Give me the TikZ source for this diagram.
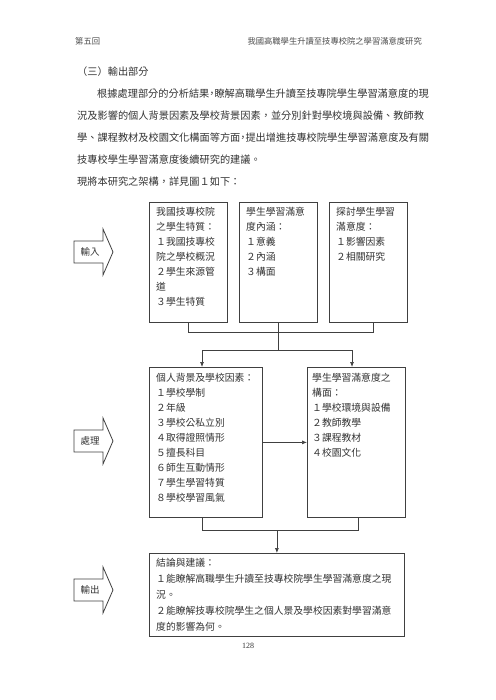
\documentclass[tikz,border=0pt]{standalone}
\usepackage{fontspec}
\setmainfont{Liberation Serif}
\newfontfamily\cjk{Noto Sans CJK TC}
\usetikzlibrary{arrows.meta,calc}
\begin{document}
\begin{tikzpicture}[x=1pt,y=-1pt,
  boxline/.style={draw=black!75, line width=0.8pt},
  frame/.style={boxline, rectangle, inner sep=0pt, anchor=north west},
  boxtext/.style={anchor=north west, inner sep=0pt, align=left, text=black!80, font=\cjk\fontsize{9.8}{15}\selectfont},
  bodytext/.style={anchor=base west, inner sep=0pt, text=black!80, font=\cjk\fontsize{10.2}{12}\selectfont},
  headtext/.style={inner sep=0pt, text=black!70, font=\cjk\fontsize{8.3}{10}\selectfont},
  arrowlabel/.style={inner sep=0pt, text=black!80, font=\cjk\fontsize{9.5}{11}\selectfont},
  link/.style={draw=black!75, line width=0.7pt},
  arr/.style={link, -{Latex[length=5pt,width=4pt]}}
]
\useasboundingbox[fill=white] (0,0) rectangle (495,700);

% header
\node[headtext, anchor=base west] (hl) at (75,44.3) {第五回};
\node[headtext, anchor=base east] (hr) at (422,44.3) {我國高職學生升讀至技專校院之學習滿意度研究};

% body text
\node[bodytext] (p0) at (77,76) {（三）輸出部分};
\node[bodytext] (p1) at (97,98) {根據處理部分的分析結果\kern-2.55pt，\kern-2.55pt 瞭解高職學生升讀至技專院學生學習滿意度的現};
\node[bodytext] (p2) at (77,120) {況及影響的個人背景因素及學校背景因素，並分別針對學校境與設備、教師教};
\node[bodytext] (p3) at (77,142) {學、課程教材及校園文化構面等方面\kern-2.55pt，\kern-2.55pt 提出增進技專校院學生學習滿意度及有關};
\node[bodytext] (p4) at (77,164) {技專校學生學習滿意度後續研究的建議。};
\node[bodytext] (p5) at (77,186) {現將本研究之架構，詳見圖１如下：};

% frames
\node[frame, minimum width=78pt, minimum height=120pt] (b1) at (149,202) {};
\node[frame, minimum width=78pt, minimum height=120pt] (b2) at (239,202) {};
\node[frame, minimum width=78pt, minimum height=120pt] (b3) at (329,202) {};
\node[frame, minimum width=113pt, minimum height=150pt] (b4) at (149,367) {};
\node[frame, minimum width=98pt, minimum height=150pt] (b5) at (307,367) {};
\node[frame, minimum width=255pt, minimum height=83pt] (b6) at (149,553) {};

% frame texts
\node[boxtext] (t1) at (156,205.7) {\rule{0pt}{10pt}我國技專校院\\之學生特質：\\１我國技專校\\院之學校概況\\２學生來源管\\道\\３學生特質};
\node[boxtext] (t2) at (246,205.7) {\rule{0pt}{10pt}學生學習滿意\\度內涵：\\１意義\\２內涵\\３構面};
\node[boxtext] (t3) at (336,205.7) {\rule{0pt}{10pt}探討學生學習\\滿意度：\\１影響因素\\２相關研究};
\node[boxtext] (t4) at (156,371.7) {\rule{0pt}{10pt}個人背景及學校因素：\\１學校學制\\２年級\\３學校公私立別\\４取得證照情形\\５擅長科目\\６師生互動情形\\７學生學習特質\\８學校學習風氣};
\node[boxtext] (t5) at (312,371.7) {\rule{0pt}{10pt}學生學習滿意度之\\構面：\\１學校環境與設備\\２教師教學\\３課程教材\\４校園文化};
\node[boxtext, font=\cjk\fontsize{9.8}{16}\selectfont] (t6) at (156,556.7) {\rule{0pt}{10pt}結論與建議：\\１能瞭解高職學生升讀至技專校院學生學習滿意度之現\\況。\\２能瞭解技專校院學生之個人景及學校因素對學習滿意\\度的影響為何。};

% connectors: top
\coordinate (ya) at (0,332);
\coordinate (yb) at (0,350);
\coordinate (yc) at (0,530);
\coordinate (b3s) at ($(b3.south)+(5,0)$);
\draw[link] (b1.south) -- (b1.south |- ya) -- (b3s |- ya) -- (b3s);
\coordinate (m1) at (b2.south |- yb);
\draw[link] (b2.south) -- (m1);
\coordinate (p4in) at ($(b4.north west)+(53,0)$);
\coordinate (p5in) at ($(b5.north west)+(45,0)$);
\draw[arr] (m1) -| (p4in);
\draw[arr] (m1) -| (p5in);

% middle
\draw[arr] (b4.east) -- (b5.west);

% bottom
\coordinate (q4) at ($(b4.south west)+(53,0)$);
\coordinate (q5) at ($(b5.south west)+(51,0)$);
\draw[link] (q4) -- (q4 |- yc) -- (q5 |- yc) -- (q5);
\draw[arr] (b6.north |- yc) -- (b6.north);

% block arrows
\foreach \cy/\lab/\nm in {252/輸入/ain, 441/處理/aproc, 590/輸出/aout}{
  \draw[boxline] (74,\cy-11) -- (103,\cy-11) -- (103,\cy-23) -- (113,\cy)
     -- (103,\cy+23) -- (103,\cy+11) -- (74,\cy+11) -- cycle;
  \node[arrowlabel] (\nm) at (90,\cy) {\lab};
}

% page number
\node[inner sep=0pt, anchor=base, font=\fontsize{8}{10}\selectfont, text=black!80] (pg) at (248,648) {128};
\end{tikzpicture}
\end{document}
